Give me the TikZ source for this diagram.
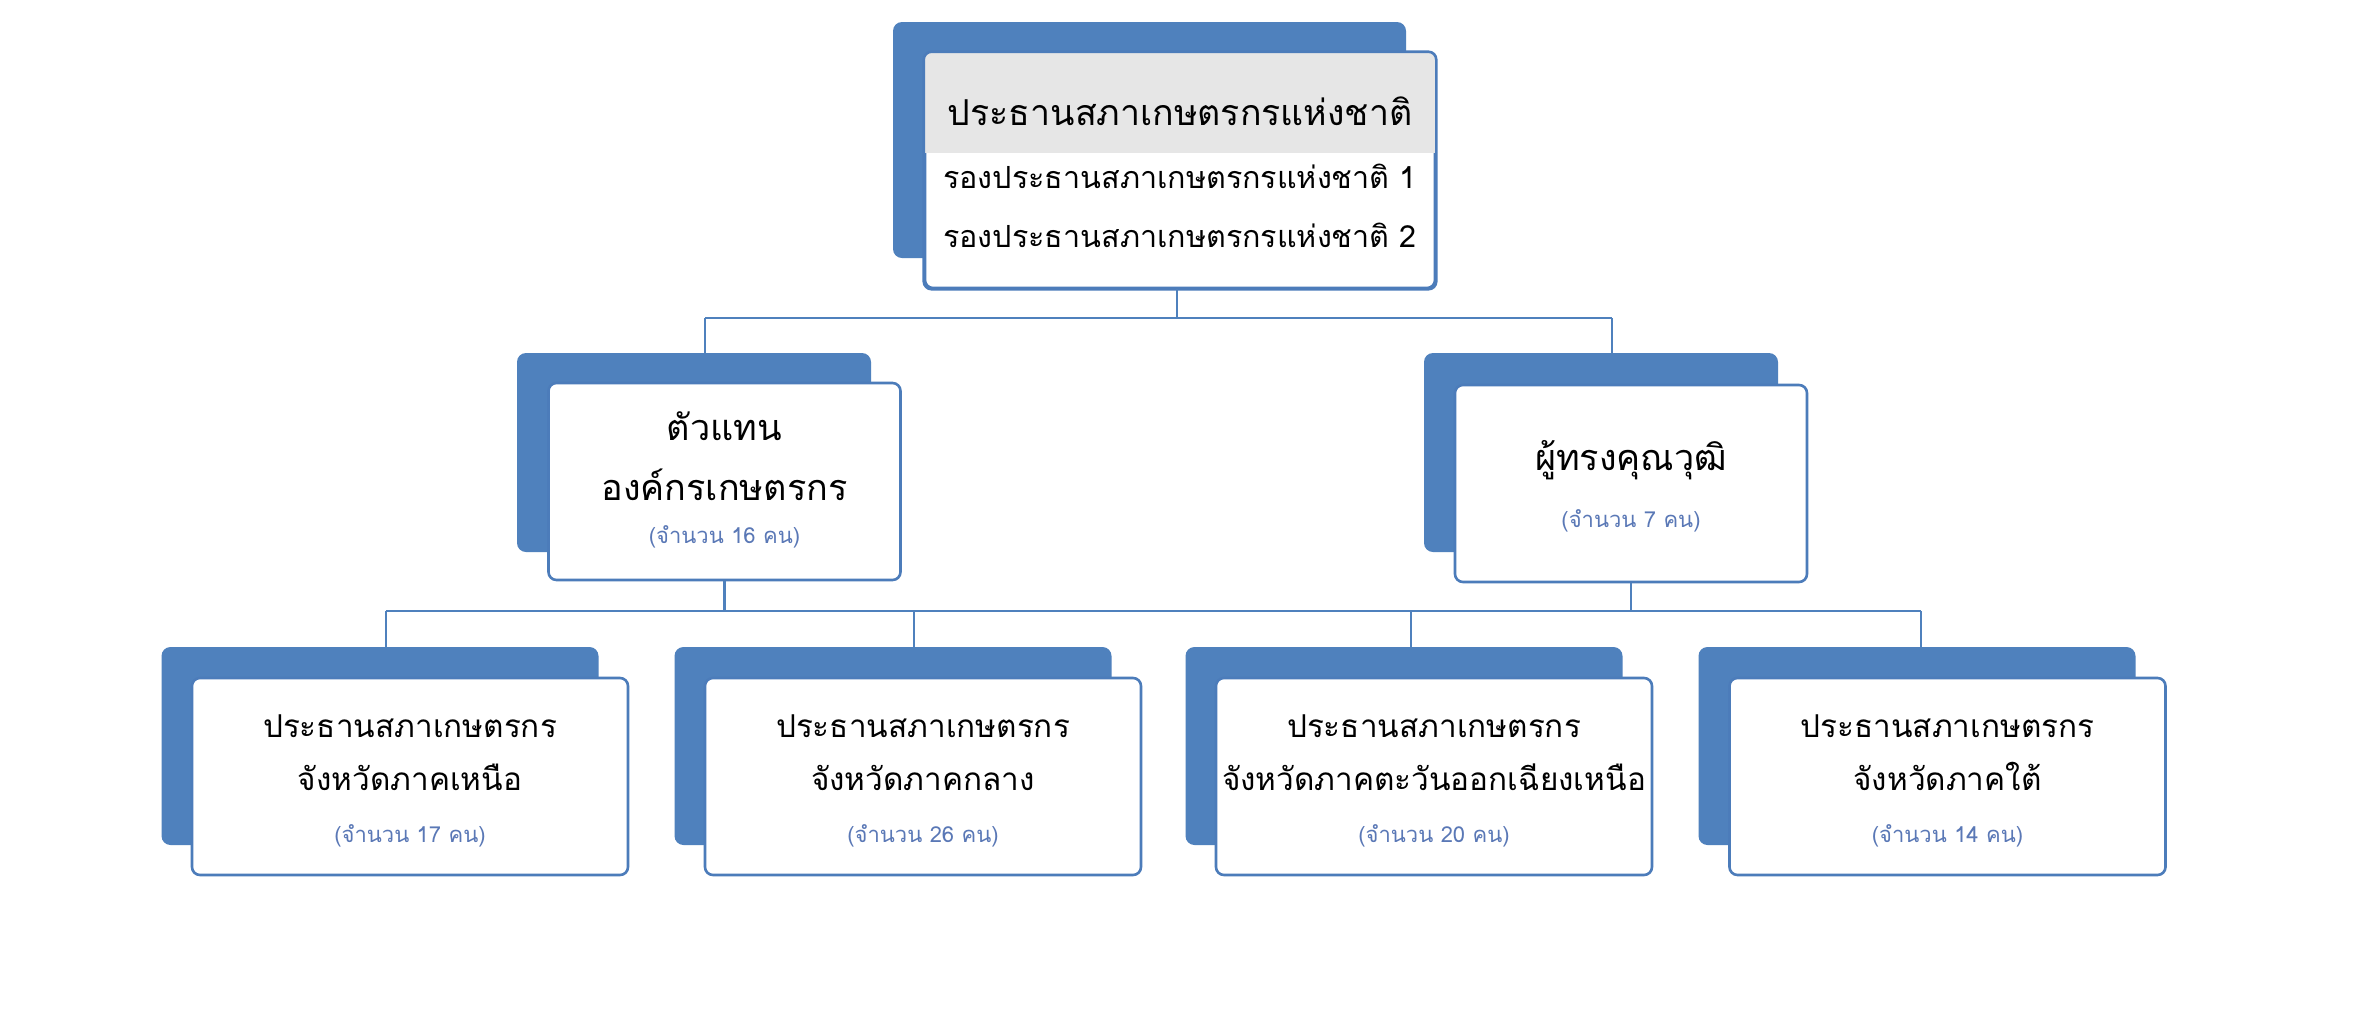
\documentclass[tikz,border=0pt]{standalone}
\usepackage{fontspec}
\newfontfamily\thai[Script=Thai]{Loma}
\definecolor{boxblue}{RGB}{79,129,189}
\definecolor{edgeblue}{RGB}{76,124,186}
\definecolor{countblue}{RGB}{90,120,182}
\definecolor{headgray}{RGB}{230,230,230}
\tikzset{
  backbox/.style={rectangle, fill=boxblue, draw=none, rounded corners=9pt, inner sep=0pt},
  frontbox/.style={rectangle, draw=edgeblue, line width=2.6pt, fill=white, rounded corners=8pt, inner sep=0pt},
  conn/.style={draw=boxblue, line width=2.6pt},
  headtxt/.style={font=\thai\fontsize{35.7}{42}\selectfont, anchor=base, inner sep=0pt},
  subtxt/.style={font=\thai\fontsize{30.5}{36}\selectfont, anchor=base, inner sep=0pt},
  midtxt/.style={font=\thai\fontsize{36}{42}\selectfont, anchor=base, inner sep=0pt},
  maintxt/.style={font=\thai\fontsize{31.5}{38}\selectfont, anchor=base, inner sep=0pt},
  cnttxt/.style={font=\thai\fontsize{22}{26}\selectfont, text=countblue, anchor=base, inner sep=0pt},
  bsize/.style={minimum width=436pt, minimum height=197pt},
  msize/.style={minimum width=352pt, minimum height=197pt}
}
\begin{document}
\begin{tikzpicture}[x=1pt,y=-1pt]
\useasboundingbox[fill=white] (0,0) rectangle (2362,1021);

% ---------- junction coordinates ----------
\coordinate (jl) at (705,318);
\coordinate (jr) at (1612,318);
\coordinate (k1) at (386,611);
\coordinate (k2) at (914,611);
\coordinate (k3) at (1411,611);
\coordinate (k4) at (1921,611);

% ---------- top box ----------
\node[backbox, minimum width=513pt, minimum height=236pt] (topbk) at (1149.5,140) {};
\node[frontbox, minimum width=510pt, minimum height=235pt] (top) at (1180,170.5) {};
\begin{scope}
  \clip[rounded corners=8pt] (top.south west) rectangle (top.north east);
  \fill[headgray] (top.north west) rectangle (1435,153);
\end{scope}
\draw[edgeblue, line width=2.6pt, rounded corners=8pt] (top.south west) rectangle (top.north east);
\node[headtxt] (t1) at (1180,125) {ประธานสภาเกษตรกรแห่งชาติ};
\node[subtxt] (t2) at (1180,188) {รองประธานสภาเกษตรกรแห่งชาติ 1};
\node[subtxt] (t3) at (1180,247) {รองประธานสภาเกษตรกรแห่งชาติ 2};

% ---------- middle boxes ----------
\node[backbox, minimum width=354pt, minimum height=199pt] (mlbk) at (694,452.5) {};
\node[frontbox, msize] (ml) at (724.5,481.5) {};
\node[midtxt] (ml1) at (724.5,440) {ตัวแทน};
\node[midtxt] (ml2) at (724.5,500) {องค์กรเกษตรกร};
\node[cnttxt] (ml3) at (724.5,543) {(จำนวน 16 คน)};

\node[backbox, minimum width=354pt, minimum height=199pt] (mrbk) at (1601,452.5) {};
\node[frontbox, msize] (mr) at (1631,483.5) {};
\node[midtxt] (mr1) at (1631,470) {ผู้ทรงคุณวุฒิ};
\node[cnttxt] (mr2) at (1631,527) {(จำนวน 7 คน)};

% ---------- bottom boxes ----------
\foreach \n/\bx/\fx/\ltwo/\cnt in {
  1/380/410/จังหวัดภาคเหนือ/(จำนวน 17 คน),
  2/893/923/จังหวัดภาคกลาง/(จำนวน 26 คน),
  3/1404/1434/จังหวัดภาคตะวันออกเฉียงเหนือ/(จำนวน 20 คน),
  4/1917/1947.5/จังหวัดภาคใต้/(จำนวน 14 คน)}{
  \node[backbox, minimum width=437pt, minimum height=198pt] (b\n bk) at (\bx,746) {};
  \node[frontbox, bsize] (b\n) at (\fx,776.5) {};
  \node[maintxt] (b\n a) at (\fx,737) {ประธานสภาเกษตรกร};
  \node[maintxt] (b\n b) at (\fx,790) {\ltwo};
  \node[cnttxt] (b\n c) at (\fx,842) {\cnt};
}

% ---------- connectors ----------
\draw[conn] (top.south -| 1177,0) -- (1177,318);
\draw[conn] (jl) -- (jr);
\draw[conn] (jl) -- (jl |- mlbk.north);
\draw[conn] (jr) -- (jr |- mrbk.north);
\draw[conn] (ml.south) -- (ml.south |- k1);
\draw[conn] (mr.south) -- (mr.south |- k1);
\draw[conn] (k1) -- (k4);
\draw[conn] (k1) -- (k1 |- b1bk.north);
\draw[conn] (k2) -- (k2 |- b2bk.north);
\draw[conn] (k3) -- (k3 |- b3bk.north);
\draw[conn] (k4) -- (k4 |- b4bk.north);
\end{tikzpicture}
\end{document}
